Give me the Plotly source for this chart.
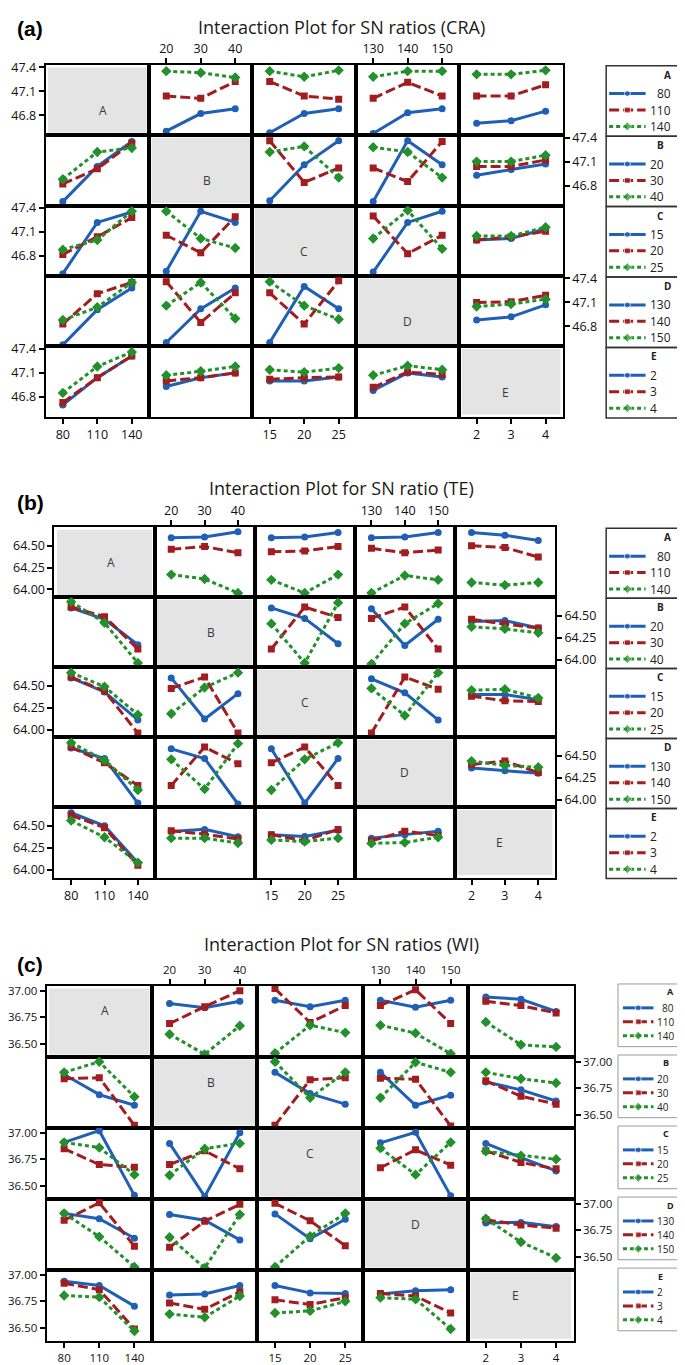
import plotly.graph_objects as go

W, H = 685, 1365
OFF = 8  # page body margin of the HTML output

FACTORS = ["A", "B", "C", "D", "E"]
LEVELS = {
    "A": [80, 110, 140],
    "B": [20, 30, 40],
    "C": [15, 20, 25],
    "D": [130, 140, 150],
    "E": [2, 3, 4],
}

# Mean SN ratio for each pair of factors: table[level of 1st factor][level of 2nd factor]
# ---- (a) CRA ----
cra_AB = [[46.60, 46.82, 46.88], [47.04, 47.01, 47.22], [47.35, 47.33, 47.27]]
cra_AC = [[46.58, 46.82, 46.88], [47.22, 47.04, 47.00], [47.35, 47.28, 47.36]]
cra_AD = [[46.57, 46.83, 46.88], [47.01, 47.21, 47.04], [47.28, 47.35, 47.35]]
cra_AE = [[46.70, 46.73, 46.85], [47.04, 47.04, 47.18], [47.31, 47.31, 47.36]]
cra_BC = [[46.61, 47.06, 47.36], [47.36, 46.84, 47.02], [47.22, 47.29, 46.90]]
cra_BD = [[46.60, 47.36, 47.06], [47.02, 46.85, 47.35], [47.28, 47.22, 46.90]]
cra_BE = [[46.93, 47.00, 47.07], [47.04, 47.04, 47.12], [47.10, 47.10, 47.18]]
cra_CD = [[46.60, 47.22, 47.36], [47.30, 46.83, 47.06], [47.02, 47.37, 46.89]]
cra_CE = [[47.00, 47.02, 47.14], [47.00, 47.04, 47.11], [47.05, 47.05, 47.16]]
cra_DE = [[46.88, 46.92, 47.07], [47.10, 47.11, 47.19], [47.05, 47.08, 47.14]]

# ---- (b) TE ----
te_AB = [[64.59, 64.60, 64.66], [64.46, 64.49, 64.42], [64.17, 64.12, 63.96]]
te_AC = [[64.59, 64.60, 64.65], [64.43, 64.44, 64.49], [64.11, 63.96, 64.17]]
te_AD = [[64.59, 64.60, 64.65], [64.47, 64.42, 64.45], [63.96, 64.16, 64.11]]
te_AE = [[64.65, 64.62, 64.56], [64.50, 64.48, 64.37], [64.08, 64.05, 64.08]]
te_BC = [[64.59, 64.47, 64.18], [64.12, 64.60, 64.48], [64.41, 63.96, 64.65]]
te_BD = [[64.58, 64.16, 64.46], [64.47, 64.60, 64.12], [63.95, 64.41, 64.64]]
te_BE = [[64.435, 64.445, 64.36], [64.46, 64.405, 64.36], [64.375, 64.35, 64.305]]
te_CD = [[64.58, 64.42, 64.11], [63.96, 64.60, 64.46], [64.47, 64.16, 64.65]]
te_CE = [[64.40, 64.40, 64.34], [64.38, 64.33, 64.32], [64.45, 64.46, 64.36]]
te_DE = [[64.36, 64.33, 64.30], [64.40, 64.44, 64.31], [64.44, 64.39, 64.37]]

# ---- (c) WI ----
wi_AB = [[36.88, 36.84, 36.90], [36.69, 36.85, 37.00], [36.59, 36.40, 36.67]]
wi_AC = [[36.91, 36.85, 36.91], [37.02, 36.70, 36.86], [36.41, 36.675, 36.605]]
wi_AD = [[36.91, 36.845, 36.91], [36.86, 37.01, 36.69], [36.675, 36.60, 36.405]]
wi_AE = [[36.94, 36.92, 36.805], [36.90, 36.86, 36.79], [36.705, 36.49, 36.47]]
wi_BC = [[36.90, 36.70, 36.60], [36.40, 36.83, 36.85], [37.00, 36.66, 36.90]]
wi_BD = [[36.90, 36.59, 36.685], [36.845, 36.835, 36.395], [36.66, 36.995, 36.90]]
wi_BE = [[36.81, 36.735, 36.63], [36.82, 36.675, 36.60], [36.90, 36.84, 36.80]]
wi_CD = [[36.905, 37.005, 36.405], [36.67, 36.84, 36.695], [36.855, 36.605, 36.91]]
wi_CE = [[36.90, 36.765, 36.64], [36.83, 36.72, 36.66], [36.825, 36.785, 36.75]]
wi_DE = [[36.82, 36.825, 36.785], [36.85, 36.80, 36.77], [36.86, 36.64, 36.49]]

cra_ticks = [46.8, 47.1, 47.4]
cra_ticktext = ["46.8", "47.1", "47.4"]
te_ticks = [64.00, 64.25, 64.50]
te_ticktext = ["64.00", "64.25", "64.50"]
wi_ticks = [36.50, 36.75, 37.00]
wi_ticktext = ["36.50", "36.75", "37.00"]

panels = [
    dict(label="(a)", title="Interaction Plot for SN ratios (CRA)",
         tables=dict(AB=cra_AB, AC=cra_AC, AD=cra_AD, AE=cra_AE, BC=cra_BC,
                     BD=cra_BD, BE=cra_BE, CD=cra_CD, CE=cra_CE, DE=cra_DE),
         yrange=[46.55, 47.43], ticks=cra_ticks, ticktext=cra_ticktext, tickfont=12.5,
         left=36, right=561, top=59, bottom=413, title_y=21, label_y=23,
         legend="stacked", lx0=605, lx1=682, lfont=12, ltfont=10, lcol=652, lcw=6.8),
    dict(label="(b)", title="Interaction Plot for SN ratio (TE)",
         tables=dict(AB=te_AB, AC=te_AC, AD=te_AD, AE=te_AE, BC=te_BC,
                     BD=te_BD, BE=te_BE, CD=te_CD, CE=te_CE, DE=te_DE),
         yrange=[63.91, 64.71], ticks=te_ticks, ticktext=te_ticktext, tickfont=12.5,
         left=45, right=553, top=524, bottom=876, title_y=484, label_y=499,
         legend="stacked", lx0=605, lx1=682, lfont=12, ltfont=10, lcol=652, lcw=6.8),
    dict(label="(c)", title="Interaction Plot for SN ratios (WI)",
         tables=dict(AB=wi_AB, AC=wi_AC, AD=wi_AD, AE=wi_AE, BC=wi_BC,
                     BD=wi_BD, BE=wi_BE, CD=wi_CD, CE=wi_CE, DE=wi_DE),
         yrange=[36.375, 37.045], ticks=wi_ticks, ticktext=wi_ticktext, tickfont=11.5,
         left=37, right=572, top=985, bottom=1342, title_y=943, label_y=963,
         legend="boxes", lx0=617, lx1=681, lfont=10, ltfont=9, lcol=660, lcw=5.2),
]

COLORS = ["#1f5fb6", "#a11d1f", "#22902b"]
DASHES = ["solid", "10px,4px", "4px,3px"]
SYMBOLS = ["circle", "square", "diamond"]
MSIZES = [7, 7, 8]

FONT = "Open Sans"

fig = go.Figure()
layout = {}
shapes = []
annotations = []


def px_x(x):
    return (x - OFF) / (W - OFF)


def px_y(y):
    return 1 - (y - OFF) / (H - OFF)


k = 0
for p in panels:
    cw = (p["right"] - p["left"]) / 5.0
    rh = (p["bottom"] - p["top"]) / 5.0
    for r in range(5):
        for c in range(5):
            k += 1
            xname = "xaxis" if k == 1 else f"xaxis{k}"
            yname = "yaxis" if k == 1 else f"yaxis{k}"
            xref = "x" if k == 1 else f"x{k}"
            yref = "y" if k == 1 else f"y{k}"
            x0 = p["left"] + c * cw
            x1 = x0 + cw
            y0 = p["top"] + r * rh
            y1 = y0 + rh
            fr, fc = FACTORS[r], FACTORS[c]
            lv = LEVELS[fc]
            step = lv[1] - lv[0]
            tf = dict(family=FONT, size=p["tickfont"], color="#111111")
            xa = dict(domain=[px_x(x0), px_x(x1)], range=[lv[0] - 0.5 * step, lv[2] + 0.5 * step],
                      anchor=yref, showgrid=False, zeroline=False, showline=True, mirror=True,
                      linecolor="black", linewidth=2, fixedrange=True, tickfont=tf)
            ya = dict(domain=[px_y(y1), px_y(y0)], range=p["yrange"], anchor=xref,
                      showgrid=False, zeroline=False, showline=True, mirror=True,
                      linecolor="black", linewidth=2, fixedrange=True, tickfont=tf)
            tk = dict(ticks="outside", ticklen=5, tickwidth=1.5, tickcolor="black", showticklabels=True)
            if r == 0 and c in (1, 3):
                xa.update(side="top", tickvals=lv, ticktext=[str(v) for v in lv], **tk)
            elif r == 4 and c in (0, 2, 4):
                xa.update(side="bottom", tickvals=lv, ticktext=[str(v) for v in lv], **tk)
            else:
                xa.update(showticklabels=False, ticks="")
            if c == 0 and r in (0, 2, 4):
                ya.update(side="left", tickvals=p["ticks"], ticktext=p["ticktext"], **tk)
            elif c == 4 and r in (1, 3):
                ya.update(side="right", tickvals=p["ticks"], ticktext=p["ticktext"], **tk)
            else:
                ya.update(showticklabels=False, ticks="")
            layout[xname] = xa
            layout[yname] = ya

            if r == c:
                shapes.append(dict(type="rect", xref="paper", yref="paper",
                                   x0=px_x(x0 + 2.5), x1=px_x(x1 - 2.5), y0=px_y(y1 - 2.5), y1=px_y(y0 + 2.5),
                                   fillcolor="#e4e4e4", line=dict(width=0), layer="below"))
                annotations.append(dict(text=fr, x=px_x((x0 + x1) / 2), y=px_y((y0 + y1) / 2),
                                        xref="paper", yref="paper", showarrow=False,
                                        font=dict(family=FONT, size=12, color="#3a3a3a")))
                # invisible point so the empty subplot is created
                fig.add_trace(go.Scatter(x=[lv[0]], y=[p["yrange"][0]], mode="markers",
                                         marker=dict(size=1, opacity=0), xaxis=xref, yaxis=yref,
                                         hoverinfo="skip", showlegend=False))
                continue

            if r < c:
                tab = p["tables"][fr + fc]
                series = [tab[i] for i in range(3)]
            else:
                tab = p["tables"][fc + fr]
                series = [[tab[a][i] for a in range(3)] for i in range(3)]
            for i in range(3):
                fig.add_trace(go.Scatter(
                    x=lv, y=series[i], mode="lines+markers", xaxis=xref, yaxis=yref,
                    line=dict(color=COLORS[i], width=3, dash=DASHES[i]),
                    marker=dict(symbol=SYMBOLS[i], size=MSIZES[i], color=COLORS[i]),
                    showlegend=False, hoverinfo="skip"))

    # titles
    annotations.append(dict(text=p["title"], x=px_x(336), y=px_y(p["title_y"]), xref="paper", yref="paper",
                            showarrow=False, xanchor="center", yanchor="middle",
                            font=dict(family=FONT, size=18, color="#1a1a1a")))
    annotations.append(dict(text="<b>" + p["label"] + "</b>", x=px_x(5), y=px_y(p["label_y"]),
                            xref="paper", yref="paper", showarrow=False, xanchor="left", yanchor="middle",
                            font=dict(family="Liberation Sans", size=21, color="black")))

# Legends drawn on an overlay axis in pixel units
k += 1
LX = f"x{k}"
LY = f"y{k}"
layout[f"xaxis{k}"] = dict(domain=[0, 1], range=[OFF, W], visible=False, fixedrange=True, anchor=LY)
layout[f"yaxis{k}"] = dict(domain=[0, 1], range=[H, OFF], visible=False, fixedrange=True, anchor=LX)

for p in panels:
    rh = (p["bottom"] - p["top"]) / 5.0
    for r in range(5):
        f = FACTORS[r]
        if p["legend"] == "stacked":
            by0 = p["top"] + r * rh + 1
            by1 = by0 + rh
            bx0, bx1 = p["lx0"], p["lx1"]
            t_dy, e_dy0, e_step = 9, 28, 16.5
            l0, l1 = bx0 + 3, bx0 + 40
            bcol, bw = "#333333", 1.5
        else:
            by0 = p["top"] + r * rh - 2
            by1 = by0 + 63
            bx0, bx1 = p["lx0"], p["lx1"]
            t_dy, e_dy0, e_step = 8, 24, 14
            l0, l1 = bx0 + 5, bx0 + 36
            bcol, bw = "#9a9a9a", 1
        shapes.append(dict(type="rect", xref="paper", yref="paper",
                           x0=px_x(bx0), x1=px_x(bx1), y0=px_y(by1), y1=px_y(by0),
                           line=dict(color=bcol, width=bw), fillcolor="rgba(0,0,0,0)"))
        maxlen = max(len(str(v)) for v in LEVELS[f])
        lab_right = p["lcol"] + maxlen * p["lcw"]
        annotations.append(dict(text="<b>" + f + "</b>", x=px_x(lab_right), y=px_y(by0 + t_dy),
                                xref="paper", yref="paper", showarrow=False, xanchor="right", yanchor="middle",
                                font=dict(family=FONT, size=p["ltfont"], color="#222222")))
        for i, lvl in enumerate(LEVELS[f]):
            ey = by0 + e_dy0 + i * e_step
            fig.add_trace(go.Scatter(x=[l0, (l0 + l1) / 2, l1], y=[ey, ey, ey], mode="lines+markers",
                                     xaxis=LX, yaxis=LY,
                                     line=dict(color=COLORS[i], width=3, dash=DASHES[i]),
                                     marker=dict(symbol=SYMBOLS[i], size=[0, MSIZES[i] - 1, 0], color=COLORS[i]),
                                     showlegend=False, hoverinfo="skip"))
            annotations.append(dict(text=str(lvl), x=px_x(lab_right), y=px_y(ey), xref="paper", yref="paper",
                                    showarrow=False, xanchor="right", yanchor="middle",
                                    font=dict(family=FONT, size=p["lfont"], color="#222222")))

fig.update_layout(width=W - OFF, height=H - OFF, margin=dict(l=0, r=0, t=0, b=0),
                  paper_bgcolor="white", plot_bgcolor="rgba(0,0,0,0)", showlegend=False,
                  shapes=shapes, annotations=annotations, **layout)

fig.write_html("out.html")
